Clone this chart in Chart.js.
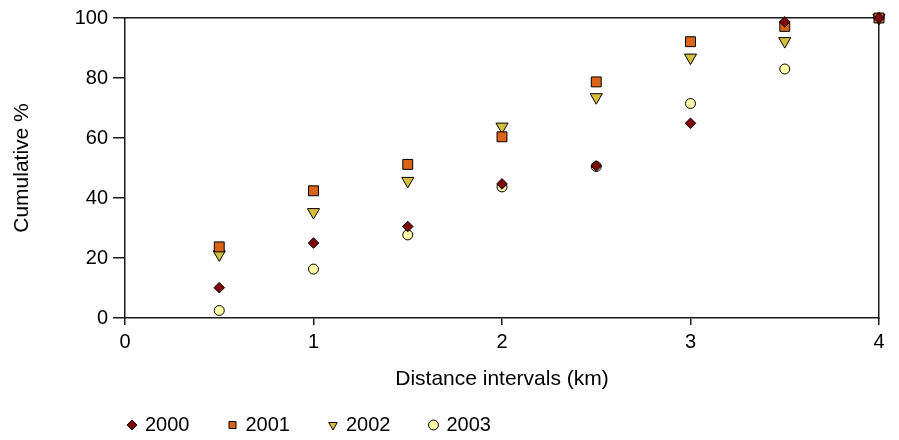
<!DOCTYPE html>
<html>
<head>
<meta charset="utf-8">
<title>Cumulative % by distance interval</title>
<script src="https://cdn.jsdelivr.net/npm/chart.js@4.4.1/dist/chart.umd.min.js"></script>
<style>
  html, body { margin: 0; padding: 0; background: #fff; }
  canvas { display: block; }
</style>
</head>
<body>
<canvas id="chart" width="899" height="440"></canvas>
<script>
// Distance intervals (km)
const distances = [0.5, 1, 1.5, 2, 2.5, 3, 3.5, 4];

// Cumulative percentage per year
const cum2000 = [10.1, 25.0, 30.5, 44.7, 50.7, 64.9, 98.7, 100];
const cum2001 = [23.7, 42.4, 51.2, 60.4, 78.7, 92.1, 97.2, 100];
const cum2002 = [21.2, 35.3, 45.7, 63.8, 73.6, 86.8, 92.3, 100];
const cum2003 = [2.5, 16.3, 27.7, 43.7, 50.5, 71.5, 83.0, 100];

const yearLabels = ['2000', '2001', '2002', '2003'];
const xTickValues = [0, 1, 2, 3, 4];
const yTickValues = [0, 20, 40, 60, 80, 100];

const FONT = "'Liberation Sans', Arial, Helvetica, sans-serif";
const AXIS_COLOR = '#1a1a1a';

const toPoints = values => distances.map((d, i) => ({ x: d, y: values[i] }));

// Shift the legend row so it starts under the plot's left edge and sits a bit higher
const legendPlacement = {
  id: 'legendPlacement',
  afterLayout(chart) {
    const lg = chart.legend;
    if (!lg) return;
    const dx = chart.chartArea.left - 36 - lg.left;
    lg.left += dx;
    lg.right += dx;
    lg.top -= 17;
  }
};

const hiddenEdgeAxis = (position, min, max) => ({
  type: 'linear',
  position,
  min,
  max,
  display: true,
  ticks: { display: false },
  grid: { display: true, drawOnChartArea: false, drawTicks: false },
  border: { display: true, color: AXIS_COLOR, width: 1.5 },
  afterFit: s => { if (position === 'top') s.height = 0; else s.width = 0; }
});

new Chart(document.getElementById('chart'), {
  type: 'scatter',
  data: {
    datasets: [
      {
        label: yearLabels[0],
        data: toPoints(cum2000),
        pointStyle: 'rectRot',
        pointRadius: 5.3,
        backgroundColor: '#7d0a08',
        borderColor: '#000',
        borderWidth: 1,
        clip: false
      },
      {
        label: yearLabels[1],
        data: toPoints(cum2001),
        pointStyle: 'rect',
        pointRadius: 7,
        backgroundColor: '#dc6418',
        borderColor: '#000',
        borderWidth: 1,
        clip: false
      },
      {
        label: yearLabels[2],
        data: toPoints(cum2002),
        pointStyle: 'triangle',
        rotation: 180,
        pointRadius: 7,
        backgroundColor: '#d6bd3c',
        borderColor: '#000',
        borderWidth: 1,
        clip: false
      },
      {
        label: yearLabels[3],
        data: toPoints(cum2003),
        pointStyle: 'circle',
        pointRadius: 5,
        backgroundColor: '#fcfca8',
        borderColor: '#000',
        borderWidth: 1,
        clip: false
      }
    ]
  },
  options: {
    responsive: false,
    animation: false,
    devicePixelRatio: 1,
    layout: { padding: { top: 18, right: 20, bottom: 0, left: 0 } },
    plugins: {
      tooltip: { enabled: false },
      legend: {
        display: true,
        position: 'bottom',
        align: 'start',
        maxHeight: 48,
        labels: {
          usePointStyle: true,
          boxWidth: 6,
          boxHeight: 7,
          padding: 40,
          color: '#000',
          font: { family: FONT, size: 20 }
        }
      }
    },
    scales: {
      x: {
        type: 'linear',
        position: 'bottom',
        min: 0,
        max: 4,
        afterBuildTicks: s => { s.ticks = xTickValues.map(v => ({ value: v })); },
        ticks: {
          color: '#000',
          padding: 5,
          font: { family: FONT, size: 20 }
        },
        grid: { display: true, drawOnChartArea: false, drawTicks: true, tickLength: 7, color: AXIS_COLOR, lineWidth: 1.5 },
        border: { display: true, color: AXIS_COLOR, width: 1.5 },
        title: {
          display: true,
          text: 'Distance intervals (km)',
          color: '#000',
          padding: { top: 0, bottom: 0 },
          font: { family: FONT, size: 21 }
        },
        afterFit: s => { s.height = 74; }
      },
      y: {
        type: 'linear',
        position: 'left',
        min: 0,
        max: 100,
        afterBuildTicks: s => { s.ticks = yTickValues.map(v => ({ value: v })); },
        ticks: {
          color: '#000',
          padding: 5,
          font: { family: FONT, size: 20 }
        },
        grid: { display: true, drawOnChartArea: false, drawTicks: true, tickLength: 12, color: AXIS_COLOR, lineWidth: 1.5 },
        border: { display: true, color: AXIS_COLOR, width: 1.5 },
        title: {
          display: true,
          text: 'Cumulative %',
          color: '#000',
          padding: { top: 10, bottom: 0 },
          font: { family: FONT, size: 21 }
        },
        afterFit: s => { s.width = 125; }
      },
      xTop: hiddenEdgeAxis('top', 0, 4),
      yRight: hiddenEdgeAxis('right', 0, 100)
    }
  },
  plugins: [legendPlacement]
});
</script>
</body>
</html>
